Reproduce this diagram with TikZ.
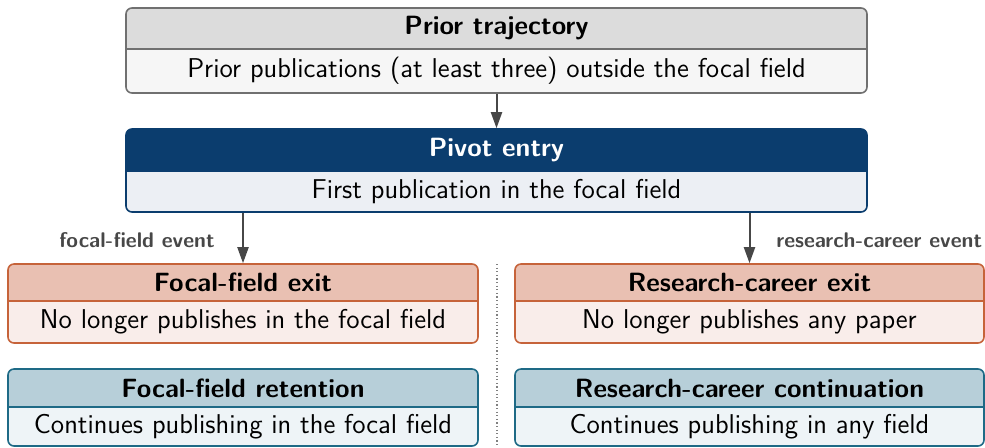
\documentclass[tikz,border=0pt]{standalone}
\usetikzlibrary{arrows.meta,fit}
\renewcommand{\familydefault}{\sfdefault}
\definecolor{grhd}{HTML}{DCDCDC}
\definecolor{grbg}{HTML}{F6F6F6}
\definecolor{grbd}{HTML}{707070}
\definecolor{grtx}{HTML}{000000}
\definecolor{pvhd}{HTML}{0B3D6E}
\definecolor{pvbg}{HTML}{ECEFF4}
\definecolor{pvbd}{HTML}{0B3D6E}
\definecolor{pvtx}{HTML}{FFFFFF}
\definecolor{exhd}{HTML}{E9C0B2}
\definecolor{exbg}{HTML}{F9EDEA}
\definecolor{exbd}{HTML}{C6633A}
\definecolor{extx}{HTML}{000000}
\definecolor{rthd}{HTML}{B7CFD9}
\definecolor{rtbg}{HTML}{EEF4F7}
\definecolor{rtbd}{HTML}{1E6A86}
\definecolor{rttx}{HTML}{000000}
\definecolor{arr}{HTML}{474747}
\definecolor{dotc}{HTML}{808080}
\tikzset{
  titletext/.style={font=\fontsize{13.2}{15}\selectfont\bfseries, inner sep=0pt},
  bodytext/.style={font=\fontsize{13.6}{16}\selectfont, text=black, inner sep=0pt},
  evlabel/.style={font=\fontsize{10.6}{12}\selectfont\bfseries, text=arr, inner sep=0pt},
  flow/.style={draw=arr, line width=1pt, -{Triangle[length=8pt,width=5.5pt]}},
  sepline/.style={draw=dotc, line width=0.6pt, dash pattern=on 0.6pt off 1.2pt},
}
% #1 name, #2 x1, #3 y1, #4 x2, #5 ysep, #6 y2, #7 scheme, #8 title, #9 body
\newcommand{\cardbox}[9]{%
  \begin{scope}
    \clip[rounded corners=3pt] (#2,#3) rectangle (#4,#6);
    \fill[#7bg] (#2,#3) rectangle (#4,#6);
    \fill[#7hd] (#2,#3) rectangle (#4,#5);
  \end{scope}
  \draw[#7bd, line width=0.7pt] (#2,#5) -- (#4,#5);
  \node[fit={(#2,#3)(#4,#6)}, inner sep=0pt, draw=#7bd, line width=0.8pt, rounded corners=3pt] (#1) {};
  \node[titletext, text=#7tx] (#1-t) at ({(#2+#4)/2},{(#3+#5)/2}) {#8};
  \node[bodytext] (#1-b) at ({(#2+#4)/2},{(#5+#6)/2}) {#9};
}
\begin{document}
\begin{tikzpicture}[x=0.5pt,y=-0.5pt]
\useasboundingbox (0,0) rectangle (985,447);
\cardbox{prior}{126}{8}{867}{49}{93}{gr}{Prior trajectory}{Prior publications (at least three) outside the focal field}
\cardbox{pivot}{126}{129}{867}{171}{212}{pv}{Pivot entry}{First publication in the focal field}
\cardbox{fexit}{8}{264}{478}{301}{343}{ex}{Focal-field exit}{No longer publishes in the focal field}
\cardbox{rexit}{515}{264}{984}{301}{343}{ex}{Research-career exit}{No longer publishes any paper}
\cardbox{fret}{8}{369}{478}{407}{446}{rt}{Focal-field retention}{Continues publishing in the focal field}
\cardbox{rcont}{515}{369}{984}{407}{446}{rt}{Research-career continuation}{Continues publishing in any field}
\draw[flow] (prior.south) -- (pivot.north);
\draw[flow] (pivot.south -| fexit.north) -- (fexit.north);
\draw[flow] (pivot.south -| rexit.north) -- (rexit.north);
\node[evlabel, anchor=east] (lf) at (215,240) {focal-field event};
\node[evlabel, anchor=west] (lr) at (776,240) {research-career event};
\coordinate (dtop) at (497,264);
\coordinate (dbot) at (497,447);
\draw[sepline] (dtop) -- (dbot);
\end{tikzpicture}
\end{document}
